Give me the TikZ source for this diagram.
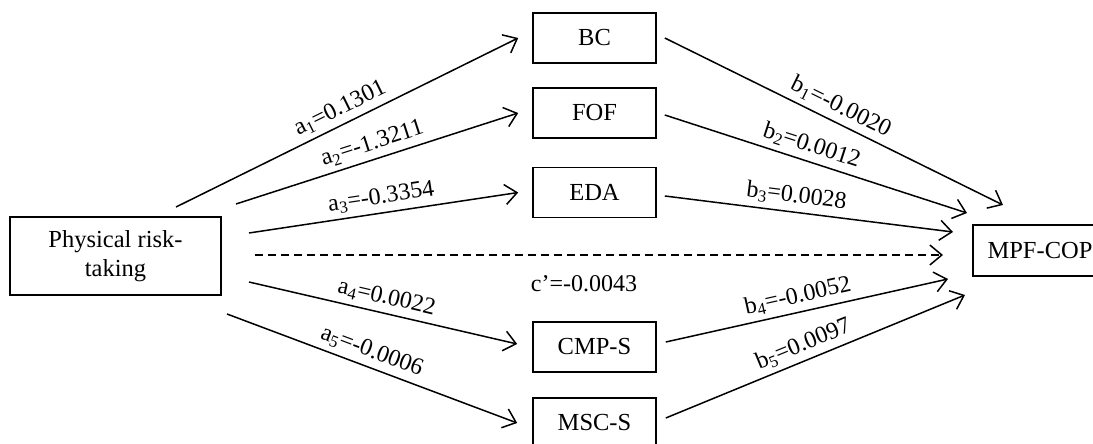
\documentclass[tikz,border=0pt]{standalone}
\usepackage{fontspec}
\setmainfont{Liberation Serif}
\usetikzlibrary{arrows.meta}

\begin{document}
\begin{tikzpicture}[x=1pt, y=-1pt, >={Straight Barb[length=12pt,width=20pt]}]
    % Define node styles
    \tikzstyle{varbox}=[rectangle, draw=black, line width=1.6pt, minimum width=123pt, minimum height=50pt, inner sep=0pt, font=\fontsize{24.5}{29}\selectfont]
    \tikzstyle{coef}=[above, sloped, inner sep=5pt, font=\fontsize{24}{26}\selectfont]
    \tikzstyle{effect}=[->, line width=1.5pt]

    \useasboundingbox (0,0) rectangle (1093,444);

    % Predictor and outcome
    \node[varbox, minimum width=211pt, minimum height=78pt, align=center] (risk) at (115.5,256) {Physical risk-\\taking};
    \node[varbox, minimum width=134pt, minimum height=51pt] (mpf) at (1040,250.5) {MPF-COP};

    % Mediators
    \node[varbox] (bc) at (594.5,38) {BC};
    \node[varbox] (fof) at (594.5,113) {FOF};
    \node[varbox] (eda) at (594.5,192.5) {EDA};
    \node[varbox] (cmp) at (594.5,347) {CMP-S};
    \node[varbox] (msc) at (594.5,423) {MSC-S};

    % Free ends of the paths
    \coordinate (a1s) at (176,207);
    \coordinate (a2s) at (236,204);
    \coordinate (a3s) at (249,233);
    \coordinate (cs) at (255,255);
    \coordinate (a4s) at (249,282);
    \coordinate (a5s) at (227,314);
    \coordinate (t1) at (1003,205);
    \coordinate (t2) at (967,213);
    \coordinate (t3) at (953,232);
    \coordinate (tc) at (943,255);
    \coordinate (t4) at (948,279);
    \coordinate (t5) at (965,295);

    % a paths: predictor to mediators
    \draw[effect] (a1s) -- node[coef] {a\textsubscript{1}=0.1301} ([xshift=-14pt]bc.west);
    \draw[effect] (a2s) -- node[coef] {a\textsubscript{2}=-1.3211} ([xshift=-14pt]fof.west);
    \draw[effect] (a3s) -- node[coef] {a\textsubscript{3}=-0.3354} ([xshift=-14pt]eda.west);
    \draw[effect] (a4s) -- node[coef] {a\textsubscript{4}=0.0022} ([xshift=-15pt,yshift=3pt]cmp.west);
    \draw[effect] (a5s) -- node[coef, pos=0.48] {a\textsubscript{5}=-0.0006} ([xshift=-15pt]msc.west);

    % b paths: mediators to outcome
    \draw[effect] ([xshift=8pt]bc.east) -- node[coef] {b\textsubscript{1}=-0.0020} (t1);
    \draw[effect] ([xshift=8pt,yshift=-2pt]fof.east) -- node[coef, pos=0.47] {b\textsubscript{2}=0.0012} (t2);
    \draw[effect] ([xshift=8pt,yshift=-3.5pt]eda.east) -- node[coef, pos=0.45] {b\textsubscript{3}=0.0028} (t3);
    \draw[effect] ([xshift=9pt,yshift=5pt]cmp.east) -- node[coef, pos=0.48] {b\textsubscript{4}=-0.0052} (t4);
    \draw[effect] ([xshift=9pt,yshift=5pt]msc.east) -- node[coef, pos=0.48] {b\textsubscript{5}=0.0097} (t5);

    % direct effect
    \draw[effect, dash pattern=on 8pt off 5pt] (cs) -- (tc);
    \node[font=\fontsize{24}{26}\selectfont] (cdir) at (584,284) {c’=-0.0043};

\end{tikzpicture}
\end{document}
